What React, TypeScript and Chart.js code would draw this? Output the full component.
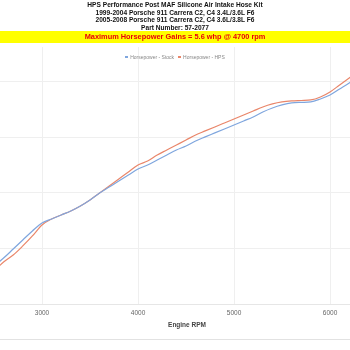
import React, { useEffect, useRef } from "react";
import { Chart, registerables } from "chart.js";
Chart.register(...registerables);

const TITLE_LINES = [
  "HPS Performance Post MAF Silicone Air Intake Hose Kit",
  "1999-2004 Porsche 911 Carrera C2, C4 3.4L/3.6L F6",
  "2005-2008 Porsche 911 Carrera C2, C4 3.6L/3.8L F6",
  "Part Number: 57-2077",
];
const GAIN_TEXT = "Maximum Horsepower Gains = 5.6 whp @ 4700 rpm";
const X_TITLE = "Engine RPM";
const SERIES_NAMES = ["Horsepower - Stock", "Horsepower - HPS"];
const SERIES_COLORS = ["#7fa6de", "#e9866a"];

const RPM = [
  2500, 2600, 2700, 2800, 2900, 3000, 3100, 3200, 3300, 3400, 3500, 3600, 3700,
  3800, 3900, 4000, 4100, 4200, 4300, 4400, 4500, 4600, 4700, 4800, 4900, 5000,
  5100, 5200, 5300, 5400, 5500, 5600, 5700, 5800, 5900, 6000, 6100, 6200, 6300,
];
const HP_STOCK = [
  84.2, 91.4, 99.5, 107.7, 115.8, 123.0, 126.6, 130.2, 133.8, 138.3, 143.7,
  150.0, 155.4, 160.8, 166.2, 171.6, 175.2, 179.7, 184.2, 188.7, 192.3, 196.8,
  200.5, 204.1, 207.7, 211.3, 214.9, 218.5, 223.0, 226.6, 229.3, 231.1, 231.6,
  232.0, 234.7, 238.3, 243.7, 249.1, 255.4,
];
const HP_HPS = [
  79.7, 87.8, 94.1, 102.3, 111.3, 121.2, 126.6, 130.2, 133.8, 138.3, 143.7,
  150.0, 156.3, 162.6, 168.9, 175.2, 178.8, 184.2, 188.7, 193.2, 197.7, 202.3,
  205.9, 209.5, 213.1, 216.7, 220.3, 223.9, 227.5, 230.2, 232.0, 232.9, 233.3,
  233.8, 236.5, 241.0, 247.3, 253.6, 259.9,
];
const X_TICKS = [3000, 4000, 5000, 6000];
const Y_TICKS = [50, 100, 150, 200, 250];
const X_MIN = 2562.5;
const X_MAX = 6458;
const Y_MIN = 50;
const Y_MAX = 281.5;

const FONT = "'Liberation Sans', Arial, sans-serif";

export default function App() {
  const canvasRef = useRef<HTMLCanvasElement | null>(null);

  useEffect(() => {
    const canvas = canvasRef.current;
    if (!canvas) return;
    const series = [HP_STOCK, HP_HPS];
    const chart = new Chart(canvas, {
      type: "line",
      data: {
        datasets: series.map((vals, i) => ({
          label: SERIES_NAMES[i],
          data: RPM.map((r, k) => ({ x: r, y: vals[k] })),
          borderColor: SERIES_COLORS[i],
          backgroundColor: SERIES_COLORS[i],
          borderWidth: 1.2,
          pointRadius: 0,
          tension: 0.4,
          cubicInterpolationMode: "monotone" as const,
        })),
      },
      options: {
        responsive: false,
        animation: false,
        devicePixelRatio: 1,
        layout: { padding: { top: 47, bottom: 16.4, left: 0, right: 0 } },
        plugins: {
          legend: { display: false },
          tooltip: { enabled: false },
        },
        scales: {
          x: {
            type: "linear",
            min: X_MIN,
            max: X_MAX,
            afterBuildTicks: (scale: any) => {
              scale.ticks = X_TICKS.map((v) => ({ value: v }));
            },
            grid: { color: "#efefef", drawTicks: false, lineWidth: 1 },
            border: { color: "#e6e6e6" },
            ticks: {
              padding: 5,
              color: "#666",
              font: { family: FONT, size: 6.5 },
              maxRotation: 0,
              autoSkip: false,
              callback: (v: any) => String(v),
            },
            title: {
              display: true,
              text: X_TITLE,
              color: "#444",
              font: { family: FONT, size: 6.5, weight: "bold" },
              padding: { top: 0, bottom: 4 },
            },
          },
          y: {
            type: "linear",
            min: Y_MIN,
            max: Y_MAX,
            afterBuildTicks: (scale: any) => {
              scale.ticks = Y_TICKS.map((v) => ({ value: v }));
            },
            grid: { color: "#efefef", drawTicks: false },
            border: { display: false },
            ticks: { display: false },
          },
        },
      },
    });
    return () => chart.destroy();
  }, []);

  return (
    <div
      style={{
        position: "fixed",
        left: 0,
        top: 0,
        width: 350,
        height: 350,
        overflow: "hidden",
        background: "#fff",
        fontFamily: FONT,
      }}
    >
      <canvas
        ref={canvasRef}
        width={374}
        height={350}
        style={{ position: "absolute", left: 0, top: 0, width: 374, height: 350 }}
      />
      <div
        style={{
          position: "absolute",
          top: 1,
          left: 0,
          width: 350,
          textAlign: "center",
          fontWeight: "bold",
          fontSize: 6.6,
          lineHeight: "7.5px",
          color: "#111",
        }}
      >
        {TITLE_LINES.map((t, i) => (
          <div key={i}>{t}</div>
        ))}
      </div>
      <div
        style={{
          position: "absolute",
          top: 31,
          left: 0,
          width: 350,
          height: 11.5,
          background: "#ffff00",
          textAlign: "center",
          fontWeight: "bold",
          fontSize: 7.4,
          lineHeight: "11.5px",
          color: "#e8000b",
        }}
      >
        {GAIN_TEXT}
      </div>
      <div
        style={{
          position: "absolute",
          top: 53,
          left: 0,
          width: 350,
          display: "flex",
          justifyContent: "center",
          alignItems: "center",
          gap: 4,
          fontSize: 5,
          lineHeight: "8px",
          color: "#888",
        }}
      >
        {SERIES_NAMES.map((n, i) => (
          <div key={i} style={{ display: "flex", alignItems: "center", gap: 2 }}>
            <span
              style={{
                display: "inline-block",
                width: 3,
                height: 1.5,
                background: SERIES_COLORS[i],
              }}
            />
            <span>{n}</span>
          </div>
        ))}
      </div>
      <div
        style={{
          position: "absolute",
          top: 339,
          left: 0,
          width: 350,
          height: 1,
          background: "#e2e2e2",
        }}
      />
    </div>
  );
}
